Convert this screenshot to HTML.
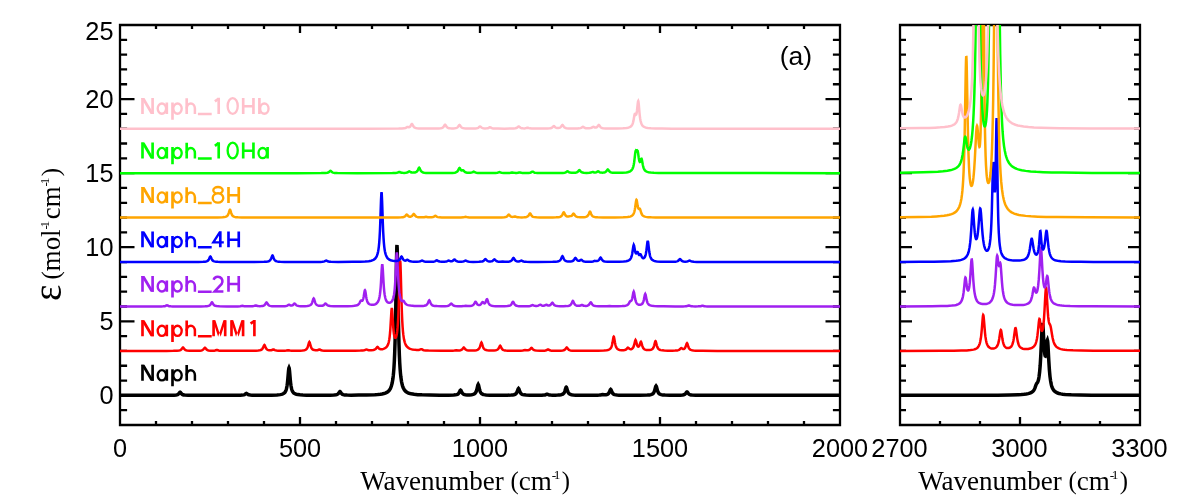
<!DOCTYPE html>
<html><head><meta charset="utf-8"><title>chart</title>
<style>
html,body{margin:0;padding:0;background:#fff;}
body{width:1200px;height:500px;overflow:hidden;font-family:"Liberation Sans",sans-serif;}
svg{display:block;will-change:transform;}
text{font-family:"Liberation Sans",sans-serif;fill:#000;}
.ser{font-family:"Liberation Serif",serif;}
</style></head><body>
<svg width="1200" height="500" viewBox="0 0 1200 500">
<defs><clipPath id="c1"><rect x="120" y="25" width="720" height="400"/></clipPath><clipPath id="c2"><rect x="900" y="25" width="240" height="400"/></clipPath></defs>
<rect width="1200" height="500" fill="#fff"/>
<path d="M120 25 H840 V425 H120 Z M120.00 425 v-8 M120.00 25 v8 M156.00 425 v-4 M156.00 25 v4 M192.00 425 v-4 M192.00 25 v4 M228.00 425 v-4 M228.00 25 v4 M264.00 425 v-4 M264.00 25 v4 M300.00 425 v-8 M300.00 25 v8 M336.00 425 v-4 M336.00 25 v4 M372.00 425 v-4 M372.00 25 v4 M408.00 425 v-4 M408.00 25 v4 M444.00 425 v-4 M444.00 25 v4 M480.00 425 v-8 M480.00 25 v8 M516.00 425 v-4 M516.00 25 v4 M552.00 425 v-4 M552.00 25 v4 M588.00 425 v-4 M588.00 25 v4 M624.00 425 v-4 M624.00 25 v4 M660.00 425 v-8 M660.00 25 v8 M696.00 425 v-4 M696.00 25 v4 M732.00 425 v-4 M732.00 25 v4 M768.00 425 v-4 M768.00 25 v4 M804.00 425 v-4 M804.00 25 v4 M840.00 425 v-8 M840.00 25 v8 M120 425.00 h7.1 M840 425.00 h-7.1 M120 410.19 h7.1 M840 410.19 h-7.1 M120 395.37 h14.5 M840 395.37 h-14.5 M120 380.56 h7.1 M840 380.56 h-7.1 M120 365.74 h7.1 M840 365.74 h-7.1 M120 350.93 h7.1 M840 350.93 h-7.1 M120 336.11 h7.1 M840 336.11 h-7.1 M120 321.30 h14.5 M840 321.30 h-14.5 M120 306.48 h7.1 M840 306.48 h-7.1 M120 291.67 h7.1 M840 291.67 h-7.1 M120 276.85 h7.1 M840 276.85 h-7.1 M120 262.04 h7.1 M840 262.04 h-7.1 M120 247.22 h14.5 M840 247.22 h-14.5 M120 232.41 h7.1 M840 232.41 h-7.1 M120 217.59 h7.1 M840 217.59 h-7.1 M120 202.78 h7.1 M840 202.78 h-7.1 M120 187.96 h7.1 M840 187.96 h-7.1 M120 173.15 h14.5 M840 173.15 h-14.5 M120 158.33 h7.1 M840 158.33 h-7.1 M120 143.52 h7.1 M840 143.52 h-7.1 M120 128.70 h7.1 M840 128.70 h-7.1 M120 113.89 h7.1 M840 113.89 h-7.1 M120 99.07 h14.5 M840 99.07 h-14.5 M120 84.26 h7.1 M840 84.26 h-7.1 M120 69.44 h7.1 M840 69.44 h-7.1 M120 54.63 h7.1 M840 54.63 h-7.1 M120 39.81 h7.1 M840 39.81 h-7.1 M120 25.00 h14.5 M840 25.00 h-14.5 M900 25 H1140 V425 H900 Z M900.00 425 v-8 M900.00 25 v8 M940.00 425 v-4 M940.00 25 v4 M980.00 425 v-4 M980.00 25 v4 M1020.00 425 v-8 M1020.00 25 v8 M1060.00 425 v-4 M1060.00 25 v4 M1100.00 425 v-4 M1100.00 25 v4 M1140.00 425 v-8 M1140.00 25 v8 M900 425.00 h6 M1140 425.00 h-6 M900 410.19 h6 M1140 410.19 h-6 M900 395.37 h12 M1140 395.37 h-12 M900 380.56 h6 M1140 380.56 h-6 M900 365.74 h6 M1140 365.74 h-6 M900 350.93 h6 M1140 350.93 h-6 M900 336.11 h6 M1140 336.11 h-6 M900 321.30 h12 M1140 321.30 h-12 M900 306.48 h6 M1140 306.48 h-6 M900 291.67 h6 M1140 291.67 h-6 M900 276.85 h6 M1140 276.85 h-6 M900 262.04 h6 M1140 262.04 h-6 M900 247.22 h12 M1140 247.22 h-12 M900 232.41 h6 M1140 232.41 h-6 M900 217.59 h6 M1140 217.59 h-6 M900 202.78 h6 M1140 202.78 h-6 M900 187.96 h6 M1140 187.96 h-6 M900 173.15 h12 M1140 173.15 h-12 M900 158.33 h6 M1140 158.33 h-6 M900 143.52 h6 M1140 143.52 h-6 M900 128.70 h6 M1140 128.70 h-6 M900 113.89 h6 M1140 113.89 h-6 M900 99.07 h12 M1140 99.07 h-12 M900 84.26 h6 M1140 84.26 h-6 M900 69.44 h6 M1140 69.44 h-6 M900 54.63 h6 M1140 54.63 h-6 M900 39.81 h6 M1140 39.81 h-6 M900 25.00 h12 M1140 25.00 h-12" fill="none" stroke="#000" stroke-width="2.3" stroke-linejoin="miter"/>
<path clip-path="url(#c1)" d="M120 395.36 163.92 395.34 170.4 395.29 174 395.2 176.16 395 176.88 394.85 177.6 394.59 178.32 394.15 178.68 393.81 179.76 392.44 180.12 392.26 180.48 392.44 181.56 393.81 181.92 394.15 182.28 394.4 183 394.74 183.72 394.93 184.8 395.09 188.04 395.26 195.96 395.33 216.84 395.34 233.76 395.31 240.24 395.23 242.4 395.11 243.84 394.86 244.56 394.59 244.92 394.39 246 393.56 246.36 393.44 246.72 393.55 247.8 394.38 248.16 394.59 248.88 394.85 250.32 395.09 252.12 395.2 260.4 395.26 271.56 395.15 276.96 394.95 280.2 394.62 281.28 394.41 282.36 394.1 283.08 393.8 283.8 393.38 284.52 392.77 284.88 392.35 285.6 391.17 285.96 390.32 286.32 389.21 286.68 387.74 287.04 385.76 287.4 383.12 287.76 379.67 288.48 371.08 288.84 368.09 289.02 367.67 289.2 368.09 289.56 371.08 290.28 379.66 290.64 383.12 291 385.76 291.36 387.73 291.72 389.21 292.08 390.32 292.44 391.17 292.8 391.83 293.52 392.76 293.88 393.1 294.6 393.61 295.32 393.96 296.4 394.32 297.84 394.61 300 394.86 302.88 395.03 306.48 395.13 313.68 395.22 323.76 395.23 330.24 395.18 333.84 395.06 336 394.82 336.72 394.64 337.44 394.34 338.16 393.8 338.52 393.39 339.6 391.74 339.96 391.52 340.32 391.74 341.4 393.38 342.12 394.09 342.48 394.32 343.2 394.62 344.64 394.91 347.16 395.08 351.12 395.14 358.68 395.12 366.6 395.01 374.88 394.72 377.76 394.51 380.28 394.24 382.08 393.96 383.88 393.56 385.32 393.1 386.76 392.43 387.48 391.98 388.2 391.42 388.92 390.71 389.64 389.79 390.36 388.57 390.72 387.81 391.44 385.85 392.16 383.05 392.88 378.87 393.24 375.98 393.6 372.3 393.96 367.56 394.32 361.36 394.68 353.12 395.04 342.08 395.4 327.32 395.76 308.07 396.48 261.41 396.84 246.49 396.98 245 397.2 248.31 397.56 265.74 398.28 312.29 398.64 330.62 399 344.56 399.36 354.96 399.72 362.74 400.08 368.61 400.44 373.11 400.8 376.61 401.52 381.59 402.24 384.86 402.6 386.08 403.32 387.97 403.68 388.71 404.4 389.89 405.48 391.16 406.2 391.77 406.92 392.26 408 392.83 409.08 393.25 411.24 393.83 414.12 394.3 417.72 394.63 422.04 394.85 429.6 395.05 439.68 395.15 448.68 395.15 453.72 395.01 455.52 394.85 456.6 394.64 457.32 394.39 458.04 393.98 458.76 393.26 459.12 392.71 460.2 390.48 460.56 390.19 460.92 390.48 462 392.69 462.36 393.24 463.08 393.95 463.8 394.35 464.52 394.59 465.24 394.73 467.04 394.88 469.56 394.88 471.72 394.71 473.16 394.42 474.24 393.98 474.96 393.46 475.68 392.59 476.04 391.92 476.4 391.02 476.76 389.83 477.84 385.05 478.2 384.41 478.56 385.05 479.64 389.85 480 391.04 480.36 391.94 480.72 392.61 481.44 393.49 481.8 393.79 482.52 394.2 483.24 394.47 483.96 394.65 486.12 394.95 489.72 395.13 498 395.23 507.36 395.19 511.32 395.04 512.76 394.91 513.84 394.72 514.56 394.51 515.28 394.18 516 393.61 516.36 393.19 516.72 392.62 517.08 391.86 518.16 388.81 518.52 388.41 518.88 388.81 519.96 391.86 520.32 392.62 520.68 393.19 521.4 393.94 522.12 394.37 522.84 394.63 523.92 394.86 526.08 395.08 529.68 395.2 536.52 395.26 541.92 395.21 543.72 395.11 544.8 394.95 545.52 394.74 546.6 394.25 546.96 394.19 547.32 394.25 548.76 394.85 549.48 395 550.56 395.11 552.36 395.17 555.24 395.17 557.76 395.09 559.56 394.96 561 394.76 562.08 394.47 562.8 394.13 563.52 393.57 563.88 393.15 564.24 392.59 564.6 391.84 564.96 390.85 565.68 388.34 566.04 387.4 566.26 387.22 566.4 387.3 566.76 388.11 567.48 390.62 567.84 391.66 568.2 392.46 568.56 393.06 568.92 393.5 569.64 394.09 570.36 394.45 571.44 394.75 573.24 395 575.76 395.15 579.72 395.24 594.12 395.26 597.36 395.21 599.52 395.1 600.6 394.95 602.4 394.48 604.2 394.79 604.92 394.82 606 394.74 606.72 394.58 607.44 394.32 608.16 393.85 608.52 393.5 608.88 393.01 609.24 392.37 610.32 389.79 610.68 389.44 611.04 389.79 612.12 392.39 612.48 393.03 612.84 393.52 613.2 393.88 613.92 394.36 614.64 394.64 615.72 394.89 617.16 395.06 618.96 395.16 625.44 395.28 640.2 395.26 647.4 395.09 649.56 394.91 651 394.64 652.08 394.26 652.8 393.81 653.16 393.49 653.52 393.06 653.88 392.48 654.24 391.71 654.6 390.69 655.68 386.58 656.04 386.04 656.4 386.58 657.48 390.69 657.84 391.71 658.2 392.48 658.56 393.06 658.92 393.48 659.28 393.81 660 394.26 661.08 394.64 662.88 394.95 665.04 395.11 669.72 395.23 676.2 395.25 680.16 395.18 682.68 395 683.76 394.78 684.48 394.51 684.84 394.3 685.56 393.65 686.64 392.16 687 391.96 687.36 392.16 688.44 393.65 688.8 394.03 689.16 394.3 689.88 394.67 690.96 394.95 692.04 395.09 695.64 395.26 716.88 395.35 840 395.37" fill="none" stroke="#000000" stroke-width="3.5" stroke-linejoin="miter" stroke-miterlimit="3"/>
<path clip-path="url(#c1)" d="M120 350.92 166.44 350.89 173.28 350.84 176.88 350.73 179.04 350.51 179.76 350.35 180.48 350.07 181.2 349.58 181.56 349.21 182.64 347.72 183 347.52 183.36 347.72 184.44 349.21 184.8 349.58 185.52 350.06 186.24 350.34 186.96 350.5 189.48 350.73 193.08 350.8 197.4 350.76 199.92 350.64 201.36 350.44 202.44 350.09 203.16 349.63 203.52 349.28 204.6 347.86 204.96 347.67 205.32 347.86 206.4 349.27 207.12 349.89 207.84 350.23 208.56 350.43 210.36 350.65 212.52 350.71 214.32 350.63 215.04 350.52 216.48 350.08 216.84 350.04 217.2 350.09 218.64 350.55 219.36 350.67 222.6 350.83 244.92 350.86 252.12 350.81 256.08 350.72 258.24 350.58 259.68 350.37 260.76 350.07 261.48 349.7 262.2 349.07 262.56 348.58 262.92 347.94 264 345.35 264.36 345 264.72 345.34 265.8 347.92 266.16 348.55 266.52 349.03 266.88 349.39 267.6 349.85 268.32 350.11 269.04 350.25 270.12 350.33 271.2 350.24 271.92 350.03 273 349.51 273.36 349.44 273.72 349.53 274.8 350.12 275.52 350.38 276.6 350.58 278.04 350.69 281.64 350.77 284.88 350.71 286.32 350.57 288.12 350.19 289.92 350.57 291.72 350.72 296.04 350.75 300.36 350.64 302.52 350.49 304.32 350.2 305.4 349.83 306.12 349.41 306.48 349.1 306.84 348.69 307.2 348.15 307.56 347.42 307.92 346.45 309 342.56 309.36 342.04 309.72 342.55 310.8 346.43 311.16 347.4 311.52 348.12 311.88 348.66 312.6 349.37 313.32 349.78 314.4 350.11 315.48 350.26 316.56 350.28 317.28 350.2 318 350.01 319.08 349.51 319.44 349.44 319.8 349.53 321.24 350.25 322.32 350.51 324.12 350.67 327 350.76 346.08 350.79 355.08 350.72 360.48 350.62 362.64 350.51 364.08 350.32 364.8 350.11 365.88 349.6 366.42 349.44 366.96 349.57 368.04 350.02 368.76 350.17 369.84 350.26 371.28 350.23 373.44 349.99 374.16 349.81 374.88 349.51 375.6 349.01 375.96 348.64 377.04 347.14 377.4 346.93 377.76 347.08 378.84 348.39 379.2 348.71 379.92 349.08 380.64 349.23 381.36 349.25 382.44 349.14 383.52 348.89 384.6 348.47 385.68 347.82 386.4 347.18 387.12 346.28 387.84 344.94 388.2 344.02 388.56 342.85 388.92 341.35 389.28 339.4 389.64 336.81 390 333.37 390.36 328.81 391.44 310.54 391.8 307.96 392.16 310.11 393.24 327.03 393.6 331.07 393.96 333.94 394.32 335.88 394.68 337.11 395.04 337.76 395.4 337.92 395.76 337.64 396.12 336.92 396.48 335.71 396.84 333.92 397.2 331.4 397.56 327.92 397.92 323.15 398.28 316.63 398.64 307.81 399 296.28 399.72 268.94 400.08 261.02 400.19 260.56 400.44 263.27 400.8 274.35 401.52 301.97 401.88 312.62 402.24 320.71 402.6 326.75 402.96 331.28 403.32 334.71 403.68 337.35 404.04 339.41 404.76 342.35 405.48 344.3 405.84 345.04 406.56 346.18 407.64 347.35 408.72 348.13 410.16 348.82 411.24 349.17 412.32 349.44 415.2 349.87 416.64 349.98 418.08 350 418.8 349.95 419.52 349.82 420.96 349.2 421.32 349.15 421.68 349.24 423.12 349.98 423.84 350.19 425.64 350.42 428.52 350.56 441.48 350.74 448.68 350.74 452.64 350.68 454.44 350.53 456.24 350.19 458.4 350.43 459.48 350.39 460.56 350.21 461.28 349.96 462 349.5 462.36 349.14 463.44 347.71 463.8 347.52 464.16 347.71 465.24 349.14 465.6 349.5 466.32 349.96 467.04 350.22 468.48 350.46 470.28 350.56 472.8 350.54 474.96 350.4 476.4 350.18 477.48 349.84 478.2 349.44 478.92 348.77 479.28 348.25 479.64 347.57 480 346.65 481.08 342.97 481.44 342.48 481.8 342.97 482.88 346.65 483.24 347.57 483.6 348.25 483.96 348.77 484.32 349.15 485.04 349.67 486.12 350.09 487.2 350.31 489 350.49 491.52 350.57 494.04 350.5 495.84 350.28 496.92 349.96 497.64 349.56 498.36 348.83 498.72 348.27 499.8 346.04 500.16 345.74 500.52 346.04 501.6 348.29 501.96 348.85 502.32 349.27 503.04 349.82 503.76 350.14 504.84 350.4 505.92 350.55 507.72 350.67 513.84 350.79 520.68 350.73 522.84 350.57 525 350.04 526.8 350.35 527.88 350.33 528.96 350.08 529.68 349.69 530.04 349.38 531.12 348.13 531.48 347.96 531.84 348.13 532.92 349.41 533.64 349.96 534.72 350.37 536.16 350.6 540.12 350.75 542.64 350.73 544.44 350.64 545.52 350.49 546.24 350.29 547.68 349.53 548.04 349.44 548.4 349.53 549.84 350.3 550.56 350.5 551.64 350.65 555.6 350.77 560.64 350.68 562.8 350.47 563.52 350.31 564.24 350.04 564.96 349.56 565.32 349.19 566.4 347.72 566.76 347.52 567.12 347.72 568.2 349.19 568.92 349.84 569.64 350.2 570.36 350.41 572.16 350.65 577.2 350.8 588 350.83 598.08 350.75 603.84 350.56 606.72 350.28 607.8 350.06 608.52 349.84 609.6 349.31 610.32 348.71 610.68 348.27 611.04 347.7 611.4 346.95 611.76 345.94 612.12 344.59 612.48 342.83 613.2 338.45 613.56 336.92 613.74 336.7 613.92 336.92 614.28 338.44 615 342.8 615.36 344.56 615.72 345.9 616.08 346.9 616.44 347.65 617.16 348.63 617.52 348.96 618.24 349.43 618.96 349.72 619.68 349.91 621.48 350.15 623.64 350.13 624.72 349.98 625.44 349.76 626.16 349.36 626.52 349.06 627.6 347.85 627.96 347.67 628.32 347.79 629.4 348.79 630.12 349.14 630.48 349.21 631.2 349.15 631.92 348.87 632.28 348.62 632.64 348.28 633 347.82 633.36 347.19 633.72 346.34 634.08 345.21 635.16 340.62 635.52 339.96 635.88 340.49 636.96 344.66 637.32 345.61 637.68 346.23 638.04 346.57 638.4 346.66 638.76 346.5 639.12 346.09 639.48 345.39 640.56 342.14 640.92 341.74 641.28 342.31 642.36 346.14 642.72 347.09 643.08 347.8 643.44 348.34 644.16 349.05 644.52 349.29 645.24 349.62 646.32 349.9 647.76 350.05 649.56 350 651 349.72 651.72 349.43 652.08 349.21 652.8 348.56 653.16 348.06 653.52 347.38 653.88 346.47 654.24 345.28 654.96 342.32 655.32 341.29 655.5 341.15 655.68 341.3 656.04 342.34 656.76 345.32 657.12 346.53 657.48 347.45 657.84 348.13 658.56 349.04 658.92 349.33 659.64 349.75 660.72 350.11 662.16 350.37 664.32 350.55 667.92 350.66 672.24 350.67 675.12 350.59 677.28 350.4 678.36 350.15 679.08 349.86 679.8 349.34 680.88 348.15 681.24 347.96 681.6 348.05 682.68 348.89 683.04 349.03 683.4 349.08 683.76 349.03 684.12 348.88 684.48 348.62 684.84 348.22 685.2 347.66 685.56 346.87 686.64 343.64 687 343.22 687.36 343.68 688.44 347.03 688.8 347.86 689.16 348.49 689.88 349.31 690.24 349.58 690.96 349.95 692.04 350.28 693.48 350.5 695.64 350.66 702.48 350.82 717.24 350.89 840 350.92" fill="none" stroke="#ff0000" stroke-width="2.5" stroke-linejoin="miter" stroke-miterlimit="3"/>
<path clip-path="url(#c1)" d="M120 306.47 152.76 306.46 161.4 306.4 163.2 306.32 164.64 306.15 165.36 305.95 166.44 305.44 166.98 305.3 167.52 305.44 168.6 305.95 169.32 306.15 170.76 306.32 172.56 306.39 194.16 306.44 201 306.4 204.96 306.3 206.76 306.17 207.84 306.02 208.56 305.84 209.28 305.55 210 305.03 210.36 304.64 210.72 304.12 211.44 302.84 211.8 302.4 211.98 302.33 212.16 302.4 212.52 302.84 213.24 304.12 213.6 304.64 213.96 305.03 214.68 305.55 215.4 305.84 216.48 306.08 219.36 306.31 226.56 306.41 237.72 306.39 240.24 306.26 242.4 305.89 244.2 306.21 245.28 306.31 247.44 306.36 250.68 306.33 252.48 306.24 253.56 306.11 254.28 305.92 255.36 305.5 255.72 305.44 256.08 305.49 257.52 305.98 258.24 306.1 259.68 306.17 261.48 306.09 262.56 305.94 263.28 305.76 264 305.44 264.36 305.2 265.08 304.45 266.16 302.71 266.52 302.48 266.88 302.71 267.96 304.45 268.68 305.21 269.4 305.63 270.12 305.87 271.92 306.15 274.44 306.28 278.4 306.33 282.36 306.29 284.88 306.16 285.96 306.02 286.68 305.84 287.4 305.53 288.48 304.81 288.84 304.7 289.2 304.77 290.28 305.35 290.64 305.47 291 305.54 291.72 305.53 292.44 305.33 292.8 305.13 293.16 304.85 294.24 303.67 294.6 303.52 294.96 303.69 296.04 304.93 296.4 305.24 297.12 305.64 297.84 305.87 298.92 306.04 300.36 306.15 302.52 306.19 305.04 306.14 307.2 306 308.64 305.78 309.72 305.45 310.44 305.07 310.8 304.79 311.52 303.95 311.88 303.29 312.24 302.43 313.32 298.95 313.68 298.48 314.04 298.94 315.12 302.41 315.48 303.27 315.84 303.92 316.2 304.4 316.92 305.03 317.64 305.39 318.72 305.69 319.8 305.82 321.24 305.85 322.32 305.73 323.04 305.53 323.76 305.16 324.12 304.87 325.2 303.67 325.56 303.52 325.92 303.69 327 304.92 327.72 305.45 328.8 305.85 330.24 306.08 333.84 306.24 340.32 306.26 347.88 306.17 352.56 305.97 354.36 305.81 355.8 305.59 356.88 305.31 357.6 305.02 358.32 304.56 359.04 303.81 359.76 302.58 360.48 301.03 360.84 300.56 361.2 300.49 361.92 300.82 362.28 300.75 362.64 300.35 363 299.57 363.36 298.32 363.72 296.56 364.44 291.99 364.8 290.39 364.98 290.19 365.16 290.45 365.52 292.15 366.24 296.99 366.6 298.94 366.96 300.42 367.32 301.52 367.68 302.34 368.04 302.95 368.76 303.76 369.12 304.04 369.84 304.41 370.56 304.63 371.64 304.77 372.36 304.78 373.44 304.69 374.52 304.46 375.6 304.04 376.32 303.61 377.04 302.99 377.76 302.07 378.12 301.44 378.84 299.66 379.2 298.38 379.56 296.71 379.92 294.49 380.28 291.52 380.64 287.54 381 282.34 381.72 269.41 382.08 264.91 382.26 264.26 382.44 264.89 382.8 269.35 383.52 282.19 383.88 287.35 384.24 291.28 384.6 294.2 384.96 296.37 385.32 298 385.68 299.22 386.04 300.16 386.4 300.88 386.76 301.43 387.48 302.19 388.2 302.61 388.92 302.8 389.64 302.79 390.36 302.58 391.08 302.14 391.8 301.4 392.52 300.21 392.88 299.36 393.24 298.27 393.6 296.87 393.96 295.03 394.32 292.59 394.68 289.33 395.04 284.94 395.4 279.09 396.48 255.54 396.84 252.41 397.2 255.56 398.28 279.15 398.64 285.01 399 289.4 399.36 292.67 399.72 295.1 400.08 296.92 400.44 298.3 400.8 299.33 401.16 300.1 401.52 300.65 401.88 301.01 402.24 301.17 402.6 301.17 403.32 300.92 403.68 301 404.04 301.39 404.76 302.64 405.48 303.66 405.84 304.02 406.56 304.53 407.28 304.87 408 305.11 409.08 305.37 410.52 305.59 414.48 305.9 419.88 306.01 423.12 305.9 424.2 305.78 425.28 305.54 426 305.26 426.36 305.05 427.08 304.41 427.44 303.92 427.8 303.26 428.88 300.61 429.24 300.26 429.6 300.62 430.68 303.28 431.04 303.95 431.4 304.45 432.12 305.1 432.84 305.48 433.56 305.71 434.64 305.91 437.16 306.12 441.12 306.22 445.08 306.17 447.24 306 448.32 305.77 449.04 305.47 449.76 304.93 450.84 303.68 451.2 303.52 451.56 303.69 452.64 304.93 453.36 305.48 454.08 305.78 455.16 306.01 457.68 306.2 461.64 306.21 463.44 306.11 465.6 305.74 467.76 306.03 469.92 305.99 471.72 305.7 472.44 305.45 473.16 305.03 473.88 304.27 474.24 303.71 474.96 302.31 475.32 301.82 475.5 301.74 475.68 301.8 476.04 302.25 476.76 303.57 477.12 304.08 477.48 304.46 477.84 304.73 478.56 305 479.28 305.04 479.64 304.98 480.36 304.66 480.72 304.37 481.08 303.98 482.16 302.31 482.52 302.04 482.88 302.16 483.6 302.96 483.96 303.26 484.32 303.38 484.68 303.31 485.04 303.04 485.4 302.54 485.76 301.8 486.48 299.88 486.84 299.27 486.98 299.22 487.2 299.4 487.56 300.23 488.28 302.4 488.64 303.25 489 303.91 489.72 304.76 490.08 305.04 490.8 305.43 491.88 305.76 493.32 305.99 495.48 306.15 499.8 306.26 504.48 306.24 507.36 306.1 509.16 305.82 510.24 305.4 510.96 304.86 511.68 303.89 512.4 302.45 512.76 301.88 513.01 301.74 513.12 301.77 513.48 302.19 514.56 304.24 515.28 305.06 516 305.52 516.72 305.79 517.8 306.01 518.88 306.13 521.04 306.24 523.92 306.29 526.8 306.27 528.96 306.17 530.04 306.02 530.76 305.83 532.2 305.08 532.56 305 532.92 305.07 534 305.63 534.72 305.86 535.8 305.99 536.88 305.97 537.6 305.87 538.32 305.66 539.76 304.8 540.12 304.7 540.48 304.79 541.56 305.43 541.92 305.58 542.64 305.74 543.72 305.74 544.44 305.58 544.8 305.43 545.88 304.8 546.24 304.7 546.6 304.77 547.68 305.33 548.04 305.45 548.4 305.51 549.12 305.5 549.84 305.31 550.56 304.86 550.92 304.49 552 302.98 552.36 302.78 552.72 302.99 553.8 304.57 554.16 304.96 554.88 305.48 555.96 305.87 557.4 306.09 559.92 306.22 563.52 306.23 566.4 306.12 567.84 305.97 568.92 305.75 569.64 305.5 570.36 305.06 571.08 304.28 571.44 303.69 572.52 301.32 572.88 301 573.24 301.31 574.32 303.67 574.68 304.25 575.04 304.69 575.4 305.02 576.12 305.43 576.84 305.67 577.56 305.8 578.64 305.86 579.72 305.77 580.44 305.57 581.52 305.07 581.88 305 582.24 305.07 583.68 305.71 584.4 305.86 585.84 305.91 587.28 305.7 588 305.45 588.72 304.97 589.44 304.12 590.16 302.88 590.52 302.42 590.74 302.33 590.88 302.37 591.24 302.78 592.32 304.55 593.04 305.25 593.4 305.47 594.12 305.77 595.56 306.06 598.44 306.25 603.12 306.32 607.08 306.24 609.6 305.89 611.76 306.2 613.56 306.27 618.24 306.24 622.2 306.09 624 305.93 625.44 305.71 626.52 305.41 627.24 305.09 627.96 304.59 628.68 303.75 629.76 301.78 630.12 301.3 630.48 301.09 630.84 301.03 631.2 300.86 631.56 300.41 631.92 299.58 632.28 298.27 633.36 292.43 633.72 291.67 634.08 292.55 635.16 298.89 635.52 300.46 635.88 301.64 636.24 302.51 636.6 303.15 636.96 303.63 637.68 304.27 638.04 304.48 638.76 304.74 639.48 304.84 640.2 304.82 640.92 304.65 641.28 304.49 642 303.99 642.36 303.6 642.72 303.07 643.08 302.35 643.44 301.37 643.8 300.06 644.88 294.74 645.24 294.04 645.6 294.77 646.68 300.18 647.04 301.53 647.4 302.54 647.76 303.3 648.12 303.87 648.48 304.3 649.2 304.9 650.28 305.43 651 305.64 652.08 305.85 654.24 306.08 657.84 306.25 663.6 306.35 675.12 306.41 683.04 306.38 684.84 306.32 686.28 306.2 687 306.05 688.44 305.5 688.8 305.44 689.16 305.5 690.6 306.05 691.32 306.19 692.76 306.32 695.28 306.38 698.16 306.36 699.96 306.27 700.68 306.17 702.12 305.78 702.48 305.74 702.84 305.78 704.28 306.18 705.36 306.31 707.16 306.4 710.76 306.44 840 306.48" fill="none" stroke="#a020f0" stroke-width="2.5" stroke-linejoin="miter" stroke-miterlimit="3"/>
<path clip-path="url(#c1)" d="M120 262.03 189.48 262 198.48 261.95 203.16 261.82 204.96 261.66 206.04 261.48 207.12 261.12 207.84 260.68 208.56 259.89 208.92 259.29 210 256.88 210.36 256.56 210.72 256.88 211.8 259.29 212.16 259.89 212.88 260.68 213.6 261.12 214.32 261.39 216.12 261.7 217.92 261.83 220.44 261.91 229.44 261.99 254.28 261.98 264 261.84 266.16 261.7 267.6 261.5 268.68 261.21 269.4 260.86 269.76 260.61 270.48 259.82 270.84 259.22 271.2 258.43 271.92 256.42 272.28 255.66 272.5 255.52 272.64 255.58 273 256.23 273.72 258.24 274.08 259.08 274.44 259.71 275.16 260.55 275.88 261.02 276.96 261.4 278.4 261.65 280.2 261.8 284.52 261.92 292.8 261.98 312.6 261.98 320.52 261.9 322.32 261.82 323.76 261.63 324.48 261.43 325.92 260.64 326.28 260.56 326.64 260.64 327.72 261.26 328.44 261.54 329.52 261.74 330.96 261.85 338.16 261.93 352.92 261.84 360.12 261.71 365.16 261.48 368.76 261.14 371.28 260.67 372.72 260.2 373.44 259.87 374.16 259.45 375.24 258.55 375.96 257.65 376.68 256.38 377.4 254.48 377.76 253.17 378.12 251.5 378.48 249.36 378.84 246.56 379.2 242.85 379.56 237.88 379.92 231.22 380.28 222.5 381 200.86 381.36 193.33 381.54 192.26 381.72 193.33 382.08 200.86 382.8 222.49 383.16 231.21 383.52 237.86 383.88 242.83 384.24 246.54 384.6 249.34 384.96 251.48 385.32 253.14 385.68 254.45 386.4 256.34 387.12 257.61 387.48 258.09 388.2 258.84 389.28 259.61 390.72 260.25 391.8 260.55 392.88 260.76 394.68 260.96 396.48 260.97 397.56 260.84 398.64 260.48 399.36 259.97 399.72 259.57 400.08 259.03 401.16 256.85 401.52 256.56 401.88 256.85 402.96 259.04 403.32 259.58 403.68 259.97 404.4 260.43 405.12 260.61 405.84 260.53 406.2 260.4 406.92 259.98 407.28 259.83 407.5 259.81 408 260.05 409.08 260.87 410.16 261.3 411.6 261.55 413.76 261.69 417 261.72 419.16 261.59 420.24 261.35 421.68 260.63 422.04 260.56 422.4 260.64 423.84 261.37 424.56 261.56 425.28 261.67 428.52 261.81 432.48 261.74 433.56 261.64 434.64 261.41 435.36 261.09 436.44 260.36 436.8 260.26 437.16 260.36 438.6 261.26 439.68 261.57 441.84 261.75 444.72 261.72 445.8 261.61 446.52 261.47 447.24 261.22 448.32 260.64 448.68 260.56 449.04 260.61 450.12 261.09 450.48 261.19 451.2 261.25 451.92 261.17 452.64 260.89 453 260.65 454.08 259.65 454.44 259.52 454.8 259.66 455.88 260.72 456.6 261.18 457.68 261.51 458.76 261.66 461.28 261.72 463.08 261.56 463.8 261.38 465.24 260.63 465.6 260.56 465.96 260.64 467.4 261.4 468.12 261.6 469.2 261.75 473.16 261.88 478.92 261.82 481.44 261.61 482.16 261.47 482.88 261.24 483.6 260.83 483.96 260.51 485.04 259.25 485.4 259.07 485.76 259.24 486.84 260.47 487.2 260.77 487.92 261.16 489 261.42 490.44 261.47 491.16 261.39 491.88 261.22 492.6 260.88 492.96 260.61 494.04 259.51 494.4 259.37 494.76 259.52 495.84 260.64 496.2 260.92 496.92 261.28 497.64 261.48 498.72 261.63 500.16 261.68 502.68 261.44 504.84 261.71 507 261.73 508.44 261.64 509.52 261.48 510.24 261.3 510.96 260.98 511.68 260.42 512.04 259.99 513.12 258.27 513.48 258.04 513.84 258.26 514.92 259.97 515.64 260.71 516 260.94 516.72 261.23 517.8 261.42 518.88 261.41 519.6 261.27 521.04 260.62 521.4 260.56 521.76 260.64 522.84 261.25 523.56 261.51 524.64 261.71 526.44 261.85 530.4 261.93 537.96 261.96 552.72 261.85 555.6 261.73 557.4 261.53 558.48 261.28 559.56 260.79 560.28 260.16 560.64 259.68 561 259.04 562.08 256.46 562.44 256.11 562.8 256.45 563.88 259.01 564.24 259.65 564.6 260.12 565.32 260.74 566.04 261.08 566.76 261.29 567.84 261.45 569.28 261.51 570.72 261.45 571.8 261.27 572.52 261.04 573.24 260.62 573.6 260.3 573.96 259.87 575.04 258.13 575.4 257.89 575.76 258.11 576.84 259.78 577.2 260.18 577.56 260.46 578.28 260.77 579 260.81 579.36 260.74 579.72 260.6 580.8 259.9 581.16 259.81 581.52 259.95 582.6 260.83 583.32 261.22 584.4 261.51 585.48 261.65 588.72 261.76 591.6 261.66 593.04 261.45 594.48 260.93 594.84 260.85 595.2 260.87 596.28 261.09 597 261.09 597.72 260.91 598.08 260.74 598.8 260.16 599.16 259.7 600.24 257.84 600.6 257.59 600.96 257.85 602.04 259.75 602.76 260.58 603.12 260.85 603.84 261.2 604.92 261.48 607.44 261.72 612.12 261.8 618.96 261.73 623.64 261.5 626.16 261.2 627.96 260.75 628.68 260.45 629.4 260.01 630.12 259.34 630.48 258.88 630.84 258.28 631.2 257.5 631.56 256.46 631.92 255.09 632.28 253.27 633.36 245.94 633.72 244.85 634.08 245.59 635.16 251.63 635.52 252.83 635.88 253.42 636.24 253.47 636.6 253.07 636.96 252.44 637.32 251.98 637.5 251.96 637.68 252.12 638.04 252.85 638.76 254.54 639.12 254.93 639.48 254.95 640.2 254.35 640.56 254.33 640.92 254.81 641.64 256.5 642 257.21 642.36 257.72 642.72 258.05 643.08 258.21 643.44 258.24 643.8 258.13 644.16 257.88 644.52 257.47 644.88 256.88 645.24 256.03 645.6 254.84 645.96 253.21 646.32 251 647.4 242.03 647.76 240.85 648.12 242.1 649.2 251.31 649.56 253.6 649.92 255.33 650.28 256.62 650.64 257.59 651 258.33 651.72 259.35 652.08 259.71 652.8 260.24 653.52 260.6 654.6 260.96 655.68 261.2 657.12 261.4 660.72 261.66 666.12 261.8 672.24 261.81 675.48 261.66 676.92 261.41 677.64 261.15 678 260.94 678.72 260.31 679.44 259.43 679.8 259.12 679.98 259.07 680.16 259.12 680.52 259.42 681.24 260.31 681.96 260.93 682.68 261.28 683.4 261.47 685.2 261.64 687 261.53 687.72 261.35 689.16 260.63 689.52 260.56 689.88 260.64 691.32 261.41 692.04 261.61 693.84 261.83 696.72 261.92 721.92 262.01 840 262.03" fill="none" stroke="#0000ff" stroke-width="2.5" stroke-linejoin="miter" stroke-miterlimit="3"/>
<path clip-path="url(#c1)" d="M120 217.59 207.48 217.56 217.56 217.49 222.6 217.3 224.4 217.1 225.48 216.86 226.56 216.41 227.28 215.85 227.64 215.43 228 214.88 228.36 214.13 228.72 213.14 229.44 210.71 229.8 209.86 229.98 209.74 230.16 209.86 230.52 210.71 231.24 213.14 231.6 214.13 231.96 214.88 232.32 215.43 232.68 215.85 233.4 216.41 234.48 216.86 235.92 217.16 238.08 217.35 241.68 217.47 255.72 217.57 301.8 217.59 379.92 217.57 397.92 217.48 401.52 217.34 402.6 217.22 403.68 217 404.4 216.73 405.12 216.25 406.2 215 406.56 214.68 406.74 214.63 406.92 214.67 407.28 214.95 408 215.78 408.72 216.34 409.08 216.5 409.8 216.65 410.52 216.63 410.88 216.56 411.6 216.25 411.96 215.98 412.32 215.61 413.4 214.09 413.76 213.89 414.12 214.11 415.2 215.7 415.56 216.1 416.28 216.62 417 216.92 418.08 217.15 420.6 217.35 423.48 217.31 424.2 217.23 426 216.85 427.8 217.23 428.52 217.31 430.32 217.36 431.76 217.28 432.84 217.1 433.56 216.86 433.92 216.67 435 215.91 435.36 215.81 435.72 215.92 436.8 216.69 437.16 216.88 437.88 217.13 439.32 217.36 441.84 217.48 450.84 217.55 460.92 217.51 463.44 217.35 465.6 216.85 467.76 217.35 469.2 217.47 471 217.52 491.16 217.55 501.6 217.45 504.48 217.26 505.56 217.07 506.28 216.83 507 216.41 507.36 216.09 508.44 214.8 508.8 214.63 509.16 214.79 510.24 216.03 510.6 216.33 510.96 216.55 511.68 216.82 512.4 216.91 513.12 216.88 514.56 216.45 514.92 216.41 515.28 216.48 516.72 217.05 517.44 217.2 519.24 217.35 521.76 217.38 523.92 217.31 525.36 217.18 526.44 216.97 527.16 216.72 527.88 216.28 528.24 215.94 528.6 215.49 529.68 213.69 530.04 213.44 530.4 213.69 531.48 215.5 532.2 216.29 532.56 216.54 533.28 216.87 534.36 217.14 536.52 217.36 539.76 217.46 546.24 217.49 552.72 217.45 555.96 217.35 558.12 217.2 559.56 216.96 560.64 216.57 561.36 216.1 562.08 215.25 562.44 214.61 563.16 212.99 563.52 212.38 563.74 212.26 563.88 212.31 564.24 212.81 564.96 214.39 565.32 215.04 565.68 215.53 566.4 216.14 567.12 216.45 567.84 216.56 568.56 216.51 570 216.11 571.08 216.01 571.44 215.89 571.8 215.66 572.16 215.32 573.24 213.79 573.6 213.59 573.96 213.83 575.04 215.52 575.4 215.94 575.76 216.25 576.48 216.66 577.56 216.98 578.64 217.13 580.08 217.22 581.88 217.24 584.04 217.14 585.48 216.94 586.56 216.62 587.28 216.21 588 215.48 588.36 214.93 588.72 214.2 589.44 212.39 589.8 211.76 589.98 211.67 590.16 211.76 590.52 212.39 591.24 214.21 591.6 214.94 591.96 215.5 592.32 215.92 592.68 216.23 593.4 216.65 594.12 216.9 594.84 217.06 595.92 217.21 597.72 217.34 603.12 217.46 615 217.46 623.28 217.33 627.6 217.05 629.04 216.85 630.12 216.61 631.2 216.22 631.92 215.81 632.64 215.2 633 214.78 633.36 214.23 633.72 213.52 634.08 212.59 634.44 211.34 634.8 209.68 635.16 207.51 635.88 202.1 636.24 200.15 636.42 199.81 636.6 199.98 636.96 201.57 637.68 206.11 638.04 207.68 638.4 208.59 638.76 208.9 639.12 208.78 639.48 208.56 639.84 208.7 640.2 209.48 641.28 213.05 641.64 213.92 642 214.58 642.36 215.09 643.08 215.79 644.16 216.39 644.88 216.63 645.96 216.88 648.12 217.15 651.36 217.33 655.68 217.44 672.6 217.55 840 217.59" fill="none" stroke="#ffa500" stroke-width="2.5" stroke-linejoin="miter" stroke-miterlimit="3"/>
<path clip-path="url(#c1)" d="M120 173.15 296.76 173.14 321.24 173.09 325.2 172.99 327.36 172.76 328.08 172.56 328.8 172.21 329.88 171.27 330.24 170.99 330.49 170.93 330.96 171.14 332.04 172.11 332.4 172.34 333.12 172.63 334.56 172.9 337.44 173.05 357.24 173.13 392.52 173.06 395.4 172.97 396.84 172.8 397.56 172.62 399 172 399.25 171.96 399.72 172.06 400.8 172.54 401.52 172.73 402.6 172.85 404.04 172.88 405.84 172.78 406.92 172.58 407.64 172.3 408.72 171.58 409.26 171.37 409.8 171.56 410.88 172.24 411.96 172.55 412.68 172.62 413.76 172.61 414.84 172.48 415.56 172.3 416.28 171.98 416.64 171.73 417.36 170.96 417.72 170.37 418.8 167.98 419.16 167.67 419.52 167.99 420.6 170.39 420.96 170.99 421.32 171.44 422.04 172.02 423.12 172.48 424.2 172.7 426 172.88 428.88 173 437.16 173.07 447.6 173.03 452.28 172.9 454.8 172.64 455.52 172.48 456.24 172.23 456.96 171.81 457.32 171.5 457.68 171.08 458.04 170.53 459.12 168.3 459.48 167.96 459.84 168.19 460.56 169.46 460.92 170 461.28 170.34 461.64 170.5 462 170.48 462.72 170.19 463.08 170.19 463.44 170.42 464.52 171.61 464.88 171.9 465.6 172.28 466.32 172.51 467.04 172.64 468.84 172.78 470.28 172.76 471.36 172.63 472.08 172.42 473.16 171.85 473.74 171.67 474.24 171.82 475.32 172.44 476.4 172.76 477.84 172.93 480 173.02 489.36 173.08 495.48 172.99 497.28 172.8 498 172.61 499.08 172.17 499.44 172.11 499.8 172.17 500.88 172.61 501.6 172.8 503.76 173 507 173.03 509.52 172.95 510.6 172.83 512.04 172.45 512.4 172.41 514.56 172.85 515.64 172.92 516.72 172.91 517.8 172.8 519.24 172.45 519.6 172.41 519.96 172.45 521.4 172.82 522.48 172.95 524.28 173.01 526.8 173.01 528.6 172.93 530.04 172.75 530.76 172.55 532.2 171.75 532.56 171.67 532.92 171.75 534 172.39 534.72 172.67 535.8 172.88 537.24 172.99 544.8 173.09 559.56 173.04 562.8 172.93 564.6 172.72 565.68 172.36 566.04 172.16 567.12 171.33 567.48 171.22 567.84 171.33 568.92 172.13 569.28 172.33 570 172.59 571.44 172.8 573.6 172.84 575.4 172.7 576.12 172.57 576.84 172.35 577.56 171.93 577.92 171.62 579 170.35 579.36 170.19 579.72 170.35 580.8 171.62 581.52 172.17 582.6 172.58 583.68 172.76 586.56 172.89 589.44 172.8 590.88 172.54 591.96 172.1 592.5 171.96 593.04 172.06 594.12 172.42 595.2 172.49 596.28 172.28 596.64 172.12 597.72 171.46 598.08 171.37 598.44 171.46 599.52 172.14 600.24 172.43 601.32 172.61 602.4 172.65 603.48 172.58 604.2 172.47 605.28 172.1 606 171.6 606.36 171.21 607.44 169.65 607.8 169.44 608.16 169.65 609.24 171.22 609.6 171.61 610.32 172.12 611.4 172.49 612.84 172.7 615 172.81 618.6 172.82 622.2 172.71 626.16 172.4 627.6 172.17 629.04 171.79 630.12 171.33 630.84 170.87 631.56 170.2 632.28 169.19 632.64 168.48 633 167.56 633.36 166.36 633.72 164.78 634.08 162.7 634.44 160.01 635.16 153.55 635.52 151.21 635.59 150.93 635.88 150.45 636.6 151.21 636.96 151.01 637.32 150.59 637.68 150.93 638.04 152.66 638.76 157.99 639.12 160.06 639.48 161.37 639.84 161.92 640.2 161.76 640.56 160.98 641.28 158.87 641.57 158.78 641.64 158.89 642 160.17 642.72 164.26 643.08 166.01 643.44 167.38 643.8 168.43 644.16 169.22 644.52 169.83 644.88 170.31 645.6 171 646.68 171.63 647.4 171.9 648.48 172.18 650.64 172.52 653.88 172.76 658.56 172.92 676.56 173.08 840 173.15" fill="none" stroke="#00ff00" stroke-width="2.5" stroke-linejoin="miter" stroke-miterlimit="3"/>
<path clip-path="url(#c1)" d="M120 128.7 365.88 128.69 398.64 128.61 401.88 128.52 404.04 128.35 405.48 128.03 406.2 127.69 407.28 126.99 407.5 126.93 408 126.97 408.72 127.16 409.08 127.17 409.44 127.09 409.8 126.9 410.16 126.59 410.52 126.14 411.6 124.21 411.96 123.96 412.32 124.25 413.4 126.31 413.76 126.83 414.12 127.21 414.84 127.72 415.92 128.11 417 128.31 418.8 128.47 421.68 128.57 428.16 128.62 435.36 128.58 438.6 128.48 440.76 128.27 441.84 128.01 442.56 127.69 442.92 127.44 443.64 126.68 444.72 124.94 445.08 124.7 445.44 124.93 446.52 126.67 446.88 127.1 447.6 127.66 448.32 127.97 449.04 128.16 450.12 128.3 451.56 128.38 453.36 128.38 454.8 128.28 455.88 128.11 456.6 127.89 457.32 127.51 457.68 127.21 458.04 126.81 459.12 125.21 459.48 125 459.84 125.22 460.92 126.82 461.28 127.22 461.64 127.53 462.36 127.92 463.08 128.15 464.16 128.33 465.6 128.46 467.76 128.53 473.52 128.53 475.32 128.45 476.76 128.29 477.48 128.11 478.2 127.8 478.56 127.56 479.64 126.61 480 126.48 480.36 126.61 481.44 127.55 482.16 127.96 483.24 128.26 485.04 128.4 486.84 128.35 487.92 128.17 488.64 127.91 489.72 127.3 490.08 127.22 490.44 127.31 491.52 127.94 492.24 128.21 493.32 128.42 494.76 128.53 498 128.61 504.48 128.64 510.24 128.61 513.48 128.51 515.28 128.34 516.36 128.08 517.08 127.72 518.16 126.78 518.52 126.53 518.74 126.48 518.88 126.5 519.24 126.72 519.96 127.38 520.68 127.87 521.76 128.22 522.84 128.36 524.28 128.38 525.36 128.28 526.08 128.12 527.16 127.72 527.52 127.67 527.88 127.73 528.96 128.15 529.68 128.34 531.84 128.55 539.4 128.62 547.32 128.52 549.84 128.33 550.56 128.2 551.28 127.99 552 127.62 552.36 127.33 553.44 126.19 553.8 126.04 554.16 126.18 555.24 127.26 555.6 127.53 556.32 127.86 557.04 128.01 557.76 128.06 558.48 128.03 559.2 127.91 559.92 127.65 560.64 127.16 561 126.77 562.08 125.21 562.44 125 562.8 125.22 563.88 126.81 564.24 127.21 564.96 127.73 565.68 128.03 566.4 128.2 568.56 128.44 571.44 128.53 575.04 128.54 577.56 128.49 579.36 128.36 580.44 128.16 581.16 127.89 581.52 127.69 582.6 126.89 582.96 126.78 583.32 126.88 584.4 127.67 585.12 128.01 585.84 128.19 586.92 128.31 589.08 128.31 590.52 128.13 591.6 127.77 592.68 127.03 593.04 126.83 593.26 126.78 593.76 126.91 594.84 127.48 595.2 127.56 595.92 127.55 596.64 127.29 597 127.04 597.36 126.69 598.44 125.19 598.8 125 599.16 125.22 600.24 126.8 600.96 127.48 601.32 127.71 602.04 128 603.12 128.23 605.64 128.44 610.32 128.52 617.52 128.47 622.92 128.29 626.52 127.98 627.96 127.72 629.04 127.42 630.12 126.95 630.84 126.46 631.56 125.73 631.92 125.22 632.28 124.56 632.64 123.71 633 122.6 633.36 121.14 633.72 119.3 634.44 115.14 634.8 113.89 635.16 113.75 635.88 114.68 636.24 114.41 636.6 113.19 636.96 110.92 637.68 104.03 638.04 101.39 638.26 101 638.4 101.37 638.76 104.19 639.48 112.61 639.84 116.07 640.2 118.73 640.56 120.73 640.92 122.22 641.28 123.36 641.64 124.23 642.36 125.45 642.72 125.89 643.44 126.53 644.16 126.98 645.24 127.43 646.32 127.72 647.76 127.98 651 128.28 655.32 128.46 661.8 128.57 671.88 128.64 840 128.7" fill="none" stroke="#ffc0cb" stroke-width="2.5" stroke-linejoin="miter" stroke-miterlimit="3"/>
<path clip-path="url(#c2)" d="M900 395.35 979.4 395.28 997.8 395.19 1009.8 395.03 1018.2 394.77 1021.4 394.58 1024 394.34 1026.2 394.05 1028.2 393.66 1029.8 393.2 1031 392.7 1032 392.12 1033 391.29 1033.8 390.31 1034.4 389.27 1035 387.88 1036 384.92 1036.4 383.97 1036.8 383.35 1037.6 382.37 1038 381.49 1038.6 379.29 1039 377.08 1039.6 372.33 1040.2 365.26 1040.8 355.11 1042 328.82 1042.2 325.78 1042.4 323.93 1042.6 323.45 1042.8 324.36 1043 326.49 1044 344.47 1044.4 350.37 1044.8 354.27 1045 355.42 1045.2 356.04 1045.4 356.13 1045.6 355.69 1045.8 354.72 1046.2 351.32 1047 341.89 1047.2 340.44 1047.4 339.99 1047.6 340.72 1047.8 342.62 1048 345.49 1048.8 360.55 1049.4 370.01 1050 376.61 1050.6 381.08 1051 383.25 1051.4 384.96 1051.8 386.33 1052.4 387.93 1053 389.13 1053.8 390.31 1054.6 391.18 1055.4 391.84 1056.4 392.46 1057.6 393 1059 393.46 1060.8 393.88 1062.8 394.2 1065.2 394.46 1071.2 394.83 1079.6 395.06 1091.8 395.2 1140 395.33" fill="none" stroke="#000000" stroke-width="3.5" stroke-linejoin="miter" stroke-miterlimit="3"/>
<path clip-path="url(#c2)" d="M900 350.88 942.4 350.79 953.8 350.71 961.4 350.58 966.8 350.38 970.6 350.09 973.4 349.64 974.4 349.38 975.4 349.03 976.4 348.52 977.2 347.94 977.8 347.35 978.4 346.57 979 345.5 979.4 344.55 979.8 343.35 980.2 341.81 980.8 338.57 981.2 335.57 981.8 329.41 982.8 317.04 983 315.56 983.2 314.89 983.4 315.16 983.6 316.3 984 320.51 985 332.79 985.4 336.38 986 340.26 986.6 342.84 987 344.08 987.4 345.04 988.2 346.4 988.8 347.08 989.4 347.58 990.4 348.12 991.4 348.42 992.6 348.56 993.8 348.47 994.8 348.2 995.6 347.8 996.4 347.15 997 346.41 997.4 345.73 997.8 344.84 998.2 343.69 998.6 342.18 999.2 339.05 1000.2 332.13 1000.6 330.27 1000.8 329.99 1001 330.2 1001.2 330.88 1001.4 331.94 1002.4 338.83 1003 341.99 1003.6 344.14 1004.2 345.56 1004.8 346.52 1005.4 347.16 1006 347.59 1006.8 347.94 1007.6 348.09 1008.6 348.07 1009.6 347.79 1010.4 347.34 1011.2 346.59 1011.8 345.71 1012.4 344.41 1013 342.48 1013.4 340.69 1013.8 338.4 1015 329.65 1015.2 328.66 1015.4 328.12 1015.6 328.1 1015.8 328.61 1016 329.57 1017.2 338.35 1017.8 341.64 1018.2 343.24 1018.6 344.48 1019.2 345.82 1019.8 346.75 1020.6 347.58 1021.6 348.22 1022.8 348.67 1024.4 348.96 1026.2 349.04 1028.2 348.91 1030 348.58 1031.6 348.05 1032.4 347.66 1033.2 347.12 1034 346.39 1034.6 345.64 1035.2 344.63 1035.6 343.77 1036 342.69 1036.4 341.31 1037 338.49 1037.4 335.91 1038 330.72 1038.8 322.32 1039.2 319.46 1039.4 318.92 1039.6 319.05 1039.8 319.8 1040.8 327.06 1041.2 329.27 1041.4 330.02 1041.6 330.54 1041.8 330.83 1042 330.91 1042.2 330.76 1042.4 330.39 1042.8 329 1043.2 326.66 1043.4 325.09 1044 318.56 1044.6 308.99 1045.4 293.9 1045.8 288.83 1046 287.84 1046.2 288.09 1046.4 289.5 1046.6 291.9 1047.8 312.02 1048.2 316.9 1048.4 318.78 1048.8 321.53 1049.2 323.16 1049.4 323.67 1050.2 325.07 1050.6 326.29 1051 328.19 1052 334.46 1052.6 337.82 1053 339.66 1053.6 341.83 1054.4 343.91 1055.2 345.35 1056.2 346.59 1057.4 347.59 1058.4 348.17 1059.6 348.68 1061 349.11 1062.8 349.49 1064.8 349.79 1067 350.02 1073 350.37 1081.2 350.59 1093.4 350.74 1140 350.87" fill="none" stroke="#ff0000" stroke-width="2.5" stroke-linejoin="miter" stroke-miterlimit="3"/>
<path clip-path="url(#c2)" d="M900 306.4 932 306.25 941 306.11 947.2 305.91 951.8 305.6 955 305.18 956.2 304.92 957.4 304.56 958.4 304.14 959.2 303.68 959.8 303.23 960.4 302.65 961 301.87 961.4 301.2 961.8 300.36 962.2 299.3 962.8 297.11 963.2 295.07 963.6 292.41 964 289.02 965 279.2 965.2 278.01 965.4 277.46 965.6 277.63 965.8 278.43 966.8 286.12 967.2 288.47 967.4 289.31 967.6 289.92 967.8 290.31 968 290.5 968.2 290.49 968.4 290.27 968.8 289.22 969.2 287.28 969.4 285.93 969.8 282.38 970.2 277.59 971.2 262.69 971.4 260.62 971.6 259.49 971.8 259.46 972 260.57 972.2 262.67 973.4 281.43 974 288.3 974.4 291.6 974.8 294.14 975.4 296.9 976 298.81 976.8 300.54 977.2 301.17 977.8 301.91 978.4 302.47 979 302.9 979.6 303.23 980.4 303.56 981.4 303.84 982.4 304.01 983.6 304.1 984.8 304.08 986 303.95 987 303.75 988 303.44 988.8 303.09 989.8 302.46 990.6 301.75 991.4 300.76 992 299.74 992.6 298.37 993.2 296.49 993.6 294.84 994 292.73 994.6 288.4 995 284.44 995.6 276.47 996.6 260.05 996.8 257.68 997 256.14 997.2 255.57 997.4 255.92 997.6 257.04 998.4 263.81 998.6 264.97 998.8 265.68 999 265.93 999.2 265.73 1000 263 1000.2 262.83 1000.4 263.3 1000.6 264.49 1000.8 266.37 1002 282.68 1002.4 287.05 1002.8 290.5 1003.4 294.28 1004 296.9 1004.4 298.2 1004.8 299.25 1005.6 300.8 1006.2 301.64 1006.8 302.29 1007.6 302.95 1008.4 303.44 1009.4 303.9 1010.4 304.24 1011.6 304.53 1012.8 304.75 1014.6 304.95 1016.8 305.09 1019 305.11 1021.2 305.04 1023 304.9 1024.6 304.67 1026 304.36 1027.2 303.96 1028.4 303.33 1029.4 302.52 1030.2 301.52 1030.6 300.84 1031 299.99 1031.6 298.25 1032 296.71 1032.4 294.78 1033.4 289.12 1033.8 287.72 1034 287.49 1034.2 287.6 1034.4 288 1035.4 291.39 1035.8 292.28 1036 292.52 1036.2 292.63 1036.4 292.6 1036.6 292.44 1036.8 292.14 1037.2 291.1 1037.4 290.35 1037.8 288.32 1038.2 285.47 1038.8 279.19 1039.4 269.96 1040.4 251.41 1040.6 249.04 1040.8 247.82 1041 247.89 1041.2 249.25 1041.4 251.7 1042.4 269.73 1043 278.25 1043.4 282.17 1043.6 283.66 1044 285.83 1044.2 286.54 1044.4 287.02 1044.6 287.28 1044.8 287.32 1045 287.14 1045.2 286.74 1045.4 286.11 1045.8 284.19 1046.8 277.27 1047 276.35 1047.2 275.93 1047.4 276.11 1047.6 276.91 1047.8 278.25 1048.8 287.91 1049.2 291.26 1049.6 293.93 1050.2 296.9 1050.6 298.34 1051 299.48 1051.8 301.13 1052.4 302 1053 302.66 1053.6 303.18 1054.4 303.71 1055.4 304.2 1056.6 304.62 1058 304.97 1059.8 305.28 1061.8 305.52 1064.2 305.72 1070.2 306 1078.8 306.19 1091.6 306.31 1140 306.43" fill="none" stroke="#a020f0" stroke-width="2.5" stroke-linejoin="miter" stroke-miterlimit="3"/>
<path clip-path="url(#c2)" d="M900 261.92 920.2 261.84 934 261.71 943.8 261.52 950.8 261.23 956 260.81 958 260.55 959.8 260.22 961.2 259.87 962.6 259.4 963.8 258.84 964.8 258.2 965.6 257.53 966.4 256.64 967.2 255.42 967.8 254.19 968.4 252.55 968.8 251.13 969.2 249.37 969.6 247.16 970.2 242.63 970.6 238.55 971.2 230.37 972.2 213.69 972.4 211.3 972.6 209.81 972.8 209.39 973 210.07 973.2 211.72 974.2 225.96 974.8 232.9 975.2 235.98 975.4 237.09 975.8 238.57 976 238.96 976.2 239.14 976.4 239.12 976.6 238.89 976.8 238.47 977.2 237.01 977.6 234.71 978 231.51 978.4 227.38 979.4 214.57 979.8 210.39 980 209.09 980.2 208.5 980.4 208.67 980.6 209.6 981 213.38 982 227.28 982.6 234.52 983.2 239.97 983.8 243.89 984.2 245.83 984.8 247.97 985.2 249 985.8 250.05 986.4 250.62 986.6 250.71 987 250.76 987.4 250.61 987.6 250.46 988 250 988.6 248.82 989 247.63 989.4 246 989.8 243.8 990.4 238.89 991 230.9 991.4 222.8 991.8 211.47 992.8 170.89 993 164.98 993.2 162.14 993.4 162.77 993.6 166.4 994.4 188.25 994.6 191.2 994.8 192.31 995 191.36 995.2 188.12 995.4 182.31 995.6 173.64 996.4 122.15 996.6 117.98 996.8 123.32 997 136.52 997.4 170.57 997.8 198.32 998.2 216.68 998.4 223.21 998.8 232.74 999.4 241.54 999.8 245.32 1000.4 249.21 1001 251.81 1001.4 253.1 1001.8 254.14 1002.2 254.99 1002.8 256 1003.8 257.22 1004.6 257.92 1005.4 258.45 1006.4 258.97 1007.4 259.35 1008.6 259.7 1010 260 1011.6 260.24 1013.4 260.41 1015.4 260.52 1017.6 260.54 1019.6 260.46 1021.2 260.31 1022.6 260.07 1023.8 259.75 1024.8 259.35 1025.6 258.89 1026.6 258.04 1027.4 257 1028.2 255.42 1028.8 253.66 1029.4 251.2 1029.8 249.05 1031.2 239.94 1031.4 239.16 1031.6 238.75 1031.8 238.76 1032 239.17 1032.2 239.94 1033.6 248.53 1034 250.44 1034.4 251.91 1034.8 253.02 1035.4 254.09 1035.6 254.31 1036 254.58 1036.4 254.61 1036.6 254.54 1037 254.2 1037.2 253.92 1037.6 253.08 1038 251.76 1038.4 249.76 1039 244.88 1039.8 234.66 1040 232.47 1040.2 231.17 1040.4 231.07 1040.6 232.17 1041.4 241.5 1041.6 243.54 1042 246.59 1042.4 248.42 1042.6 248.97 1042.8 249.31 1043 249.46 1043.2 249.44 1043.4 249.26 1043.8 248.4 1044.2 246.86 1044.4 245.83 1045 241.59 1046 232.71 1046.2 231.54 1046.4 230.92 1046.6 230.94 1046.8 231.6 1047 232.84 1048.2 244.43 1048.6 247.65 1049.2 251.28 1049.8 253.81 1050.2 255.04 1050.6 256.03 1051.2 257.16 1051.8 257.99 1052.4 258.62 1053.2 259.25 1054.2 259.8 1055.2 260.2 1056.4 260.54 1057.6 260.79 1060.8 261.19 1065.2 261.47 1071.6 261.67 1080.6 261.8 1093.4 261.89 1140 261.98" fill="none" stroke="#0000ff" stroke-width="2.5" stroke-linejoin="miter" stroke-miterlimit="3"/>
<path clip-path="url(#c2)" d="M900 217.25 918.6 217.01 931.4 216.64 936.4 216.38 940.6 216.07 944 215.7 947 215.25 949.4 214.74 951.6 214.08 953.4 213.33 955 212.39 956.4 211.23 957.6 209.85 958.6 208.24 959.4 206.51 960.2 204.15 960.8 201.79 961.4 198.67 962 194.42 962.4 190.68 962.8 185.92 963.2 179.76 963.6 171.68 964.2 154.32 964.6 137.9 965.8 68.86 966 60.61 966.2 56.26 966.4 56.54 966.6 61.36 966.8 69.88 967.6 116.55 968 136.32 968.4 151.41 969 166.85 969.4 173.65 969.8 178.49 970.2 181.85 970.6 184.07 971 185.38 971.2 185.73 971.4 185.9 971.6 185.89 971.8 185.71 972 185.37 972.2 184.86 972.6 183.32 973 181.04 973.4 177.97 973.8 173.99 974.2 169 974.8 159.5 976.2 132.63 976.6 127.62 976.8 126.28 977 125.82 977.2 126.22 977.4 127.4 977.8 131.49 978.8 143.67 979.2 146.37 979.4 146.88 979.6 146.71 979.8 145.78 980 143.98 980.4 137.13 980.6 131.63 981 114.76 981.2 102.31 981.6 65.4 982 5.42 982.6 -122.82 982.8 -152.75 983 -158.56 983.2 -137.63 983.8 -8.02 984.2 60.3 984.6 104.06 985 131.56 985.2 141.34 985.6 155.69 986 165.32 986.6 174.4 986.8 176.45 987.2 179.52 987.4 180.63 987.8 182.15 988 182.6 988.2 182.87 988.4 182.96 988.6 182.89 988.8 182.65 989 182.25 989.4 180.96 990 177.69 990.6 172.5 991.2 164.74 991.6 157.62 992 148.38 992.4 136.3 992.8 120.38 993.2 99.19 993.6 70.82 994 32.97 994.4 -16.28 995.4 -162.05 995.6 -179.04 995.8 -185.4 996 -180.02 996.2 -163.81 997.2 -17.68 997.8 53.37 998.4 100.72 999 131.64 999.4 146.24 1000 162.25 1000.6 173.5 1001.2 181.66 1002 189.43 1002.8 194.91 1003.2 197.06 1003.8 199.74 1004.4 201.91 1005 203.7 1005.6 205.19 1006.2 206.45 1007 207.83 1007.8 208.97 1008.6 209.91 1009.6 210.88 1010.6 211.66 1011.6 212.31 1012.8 212.96 1014.2 213.56 1015.6 214.06 1017.2 214.51 1019 214.92 1021 215.28 1025.6 215.88 1031 216.31 1037.8 216.66 1046.2 216.92 1056.8 217.11 1087.4 217.37 1140 217.5" fill="none" stroke="#ffa500" stroke-width="2.5" stroke-linejoin="miter" stroke-miterlimit="3"/>
<path clip-path="url(#c2)" d="M900 172.74 912.8 172.58 923 172.37 931.2 172.09 937.8 171.74 943 171.3 947.4 170.74 951 170.02 952.4 169.63 953.8 169.15 955 168.64 956.2 167.99 957.2 167.29 958.2 166.39 959 165.46 959.8 164.25 960.4 163.07 961 161.57 961.8 158.81 962.6 154.78 963.2 150.61 964.6 138.82 964.8 137.7 965 136.98 965.2 136.69 965.4 136.84 965.6 137.39 965.8 138.26 966.8 144.4 967.2 146.48 967.6 148.03 967.8 148.61 968.2 149.39 968.4 149.6 968.6 149.7 968.8 149.7 969 149.61 969.4 149.13 970 147.73 970.6 145.5 971 143.5 971.4 141.03 972 136.25 972.6 129.81 973.2 121.06 973.6 113.49 974 104.02 974.4 92.11 974.8 76.97 975.4 46.01 975.8 18.13 976.4 -36.63 977.2 -122.62 977.6 -152.67 977.8 -159.09 978 -158.53 978.2 -151.07 978.4 -137.65 979.8 2.17 980.2 32.08 980.8 65.18 981.2 81.1 981.6 93.37 982 102.84 982.4 110.13 982.8 115.71 983.4 121.55 983.8 124.08 984 124.99 984.4 126.16 984.6 126.43 984.8 126.49 985 126.34 985.2 125.97 985.4 125.38 985.6 124.55 986 122.12 986.2 120.47 986.6 116.12 987 110.07 987.4 101.76 988 83.16 988.6 53.15 989 23.77 990.2 -97.06 990.4 -107.88 990.6 -110.65 990.8 -105.31 991 -93.47 991.6 -44.31 992 -18.72 992.2 -10.49 992.4 -5.48 992.6 -3.69 992.8 -5.03 993 -9.42 993.2 -16.66 994 -62.19 994.2 -71.27 994.4 -76.01 994.6 -75.48 994.8 -69.91 995.6 -28.21 995.8 -20.43 996 -15.35 996.2 -13.18 996.4 -14 996.6 -17.77 997 -33.51 997.8 -80.67 998 -88.26 998.2 -90.88 998.4 -87.6 998.6 -78.46 998.8 -64.48 999.6 8.85 1000.2 54.4 1000.8 85.84 1001.2 100.8 1001.6 112.33 1002 121.33 1002.6 131.45 1003.2 138.81 1004 145.84 1004.8 150.82 1005.6 154.49 1006.2 156.64 1006.8 158.43 1007.4 159.91 1008 161.18 1008.6 162.25 1009.4 163.46 1010.2 164.47 1011 165.32 1012 166.21 1013 166.94 1014.2 167.67 1015.4 168.27 1016.8 168.85 1018.2 169.33 1019.8 169.78 1021.6 170.19 1025.6 170.87 1030.6 171.43 1036.2 171.83 1043.2 172.16 1051.8 172.42 1062.4 172.62 1092 172.88 1140 173.02" fill="none" stroke="#00ff00" stroke-width="2.5" stroke-linejoin="miter" stroke-miterlimit="3"/>
<path clip-path="url(#c2)" d="M900 128.36 921.2 128.09 929 127.89 935.2 127.65 940.4 127.34 944.6 126.97 948 126.5 950.6 125.95 951.8 125.59 952.8 125.2 953.8 124.7 954.6 124.17 955.4 123.47 956 122.77 956.6 121.85 957 121.06 957.4 120.08 957.8 118.86 958.4 116.4 959 113 960 106.32 960.2 105.4 960.4 104.84 960.6 104.7 960.8 104.98 961 105.63 962.2 112.29 962.8 114.78 963.4 116.33 963.8 116.97 964.2 117.35 964.4 117.46 964.8 117.55 965.4 117.4 965.8 117.13 966.2 116.74 966.8 115.92 967.4 114.8 968 113.34 968.6 111.45 969 109.9 969.8 105.83 970.4 101.6 971 95.84 971.4 90.78 971.8 84.33 972.2 75.94 972.8 57.75 973.4 27.93 973.8 -3.59 974 -24.94 974.4 -84.84 974.8 -180.16 975 -197.22 977 -197.22 977.2 -193.95 977.6 -94.64 978 -32.52 978.4 7.22 978.8 33.55 979.4 58.5 979.8 69.3 980.2 77.16 980.6 82.96 981.2 88.94 981.8 92.66 982 93.51 982.4 94.73 982.8 95.38 983 95.51 983.2 95.51 983.4 95.38 983.6 95.14 984 94.27 984.4 92.87 984.8 90.88 985.4 86.57 986 80.2 986.6 70.85 987 62.25 987.4 50.96 988 26.72 988.4 3.58 989 -45.44 990 -145.68 990.2 -156.18 990.4 -159.29 990.6 -154.92 990.8 -144.31 991.8 -68.85 992 -58.41 992.4 -44.89 992.6 -41.55 992.8 -40.23 993 -40.73 993.2 -42.83 993.6 -50.78 994.2 -67.04 994.6 -75.53 994.8 -77.59 995 -77.66 995.2 -75.56 995.4 -71.26 995.8 -56.95 997 3.54 997.6 29.59 998.4 55.56 999.2 73.44 999.8 83.12 1000.4 90.55 1001 96.34 1001.8 102.23 1002.6 106.65 1003.6 110.76 1004.6 113.81 1005.2 115.28 1005.8 116.53 1006.4 117.61 1007.2 118.84 1008 119.87 1009 120.94 1010 121.82 1011 122.56 1012.2 123.29 1013.4 123.9 1014.8 124.48 1016.2 124.96 1017.8 125.42 1019.6 125.83 1023.6 126.51 1028.4 127.04 1034 127.45 1041 127.78 1049.6 128.03 1060.2 128.22 1090.2 128.46 1140 128.6" fill="none" stroke="#ffc0cb" stroke-width="2.5" stroke-linejoin="miter" stroke-miterlimit="3"/>
<g font-size="25.3" text-anchor="end">
<text x="113.5" y="40">25</text>
<text x="113.5" y="108">20</text>
<text x="113.5" y="182">15</text>
<text x="113.5" y="256">10</text>
<text x="113.5" y="330">5</text>
<text x="113.5" y="404">0</text>
</g>
<g font-size="25.3" text-anchor="middle">
<text x="120" y="456.5">0</text>
<text x="300" y="456.5">500</text>
<text x="480" y="456.5">1000</text>
<text x="660" y="456.5">1500</text>
<text x="840" y="456.5">2000</text>
<text x="899.5" y="456.5">2700</text>
<text x="1019.5" y="456.5">3000</text>
<text x="1139.5" y="456.5">3300</text>
</g>
<text x="779.8" y="64.8" font-size="26.5">(a)</text>
<text class="ser" x="360.2" y="489.8" font-size="27.05">Wavenumber <tspan font-size="24.8" dy="-0.55">(</tspan><tspan dy="0.55">cm</tspan><tspan font-size="13.4" dy="-11.3">-<tspan dx="-2.4">1</tspan></tspan><tspan font-size="24.8" dy="10.75" dx="1.3">)</tspan></text>
<text class="ser" x="918.2" y="489.8" font-size="27.05">Wavenumber <tspan font-size="24.8" dy="-0.55">(</tspan><tspan dy="0.55">cm</tspan><tspan font-size="13.4" dy="-11.3">-<tspan dx="-2.4">1</tspan></tspan><tspan font-size="24.8" dy="10.75" dx="1.3">)</tspan></text>
<text class="ser" transform="translate(61,300.9) rotate(-90)" font-size="39">ε</text>
<text class="ser" transform="translate(60,279.5) rotate(-90)" font-size="26.85"><tspan font-size="24.8" dy="-0.55">(</tspan><tspan dy="0.55">mol</tspan><tspan font-size="13.4" dy="-11.3">-<tspan dx="-2.4">1</tspan></tspan><tspan dy="11.3" dx="1.5">cm</tspan><tspan font-size="13.4" dy="-11.3">-<tspan dx="-2.4">1</tspan></tspan><tspan font-size="24.8" dy="10.75" dx="1.3">)</tspan></text>
<g transform="translate(0 114)" stroke="#ffc0cb" fill="none" stroke-linecap="butt" stroke-linejoin="miter"><path d="M142.5 0L142.5 -15.9M152.6 0L152.6 -15.9M166.8 -11.4L166.8 0M172.5 -11.4L172.5 5.7M186.7 -15.7L186.7 0M218.7 -16.3L218.7 0M243.2 0L243.2 -15.9M253.45 0L253.45 -15.9M259.4 -16L259.4 0" stroke-width="2.65"/><path d="M157.7 -5.4a4.2 5.1 0 1 0 8.4 0a4.2 5.1 0 1 0 -8.4 0ZM173.3 -5.4a4.2 5.1 0 1 0 8.4 0a4.2 5.1 0 1 0 -8.4 0ZM227.65 -8a5.05 7.9 0 1 0 10.1 0a5.05 7.9 0 1 0 -10.1 0ZM260.15 -5.4a4.2 5.1 0 1 0 8.4 0a4.2 5.1 0 1 0 -8.4 0Z" stroke-width="2.35"/><path d="M186.7 -5.4a4.1 5.05 0 0 1 8.2 0V0M197.9 0L211.7 0M243.2 -7.7L253.45 -7.7" stroke-width="2.5"/><path d="M218.5 -15.3L214.9 -12.6" stroke-width="2.6"/><path d="M141.18 -15.9L144.48 -15.9L153.92 0L150.62 0Z" fill="#ffc0cb" stroke="none"/></g>
<g transform="translate(0 158.45)" stroke="#00ff00" fill="none" stroke-linecap="butt" stroke-linejoin="miter"><path d="M142.5 0L142.5 -15.9M152.6 0L152.6 -15.9M166.8 -11.4L166.8 0M172.5 -11.4L172.5 5.7M186.7 -15.7L186.7 0M218.7 -16.3L218.7 0M243.2 0L243.2 -15.9M253.45 0L253.45 -15.9M267.6 -11.4L267.6 0" stroke-width="2.65"/><path d="M157.7 -5.4a4.2 5.1 0 1 0 8.4 0a4.2 5.1 0 1 0 -8.4 0ZM173.3 -5.4a4.2 5.1 0 1 0 8.4 0a4.2 5.1 0 1 0 -8.4 0ZM227.65 -8a5.05 7.9 0 1 0 10.1 0a5.05 7.9 0 1 0 -10.1 0ZM258.5 -5.4a4.2 5.1 0 1 0 8.4 0a4.2 5.1 0 1 0 -8.4 0Z" stroke-width="2.35"/><path d="M186.7 -5.4a4.1 5.05 0 0 1 8.2 0V0M197.9 0L211.7 0M243.2 -7.7L253.45 -7.7" stroke-width="2.5"/><path d="M218.5 -15.3L214.9 -12.6" stroke-width="2.6"/><path d="M141.18 -15.9L144.48 -15.9L153.92 0L150.62 0Z" fill="#00ff00" stroke="none"/></g>
<g transform="translate(0 202.89)" stroke="#ffa500" fill="none" stroke-linecap="butt" stroke-linejoin="miter"><path d="M142.5 0L142.5 -15.9M152.6 0L152.6 -15.9M166.8 -11.4L166.8 0M172.5 -11.4L172.5 5.7M186.7 -15.7L186.7 0M228.5 0L228.5 -15.9M238.75 0L238.75 -15.9" stroke-width="2.65"/><path d="M157.7 -5.4a4.2 5.1 0 1 0 8.4 0a4.2 5.1 0 1 0 -8.4 0ZM173.3 -5.4a4.2 5.1 0 1 0 8.4 0a4.2 5.1 0 1 0 -8.4 0ZM213.3 -12.7a4.7 3.2 0 1 0 9.4 0a4.7 3.2 0 1 0 -9.4 0ZM212.7 -4.9a5.3 4.7 0 1 0 10.6 0a5.3 4.7 0 1 0 -10.6 0Z" stroke-width="2.35"/><path d="M186.7 -5.4a4.1 5.05 0 0 1 8.2 0V0M197.9 0L211.7 0M228.5 -7.7L238.75 -7.7" stroke-width="2.5"/><path d="M141.18 -15.9L144.48 -15.9L153.92 0L150.62 0Z" fill="#ffa500" stroke="none"/></g>
<g transform="translate(0 247.34)" stroke="#0000ff" fill="none" stroke-linecap="butt" stroke-linejoin="miter"><path d="M142.5 0L142.5 -15.9M152.6 0L152.6 -15.9M166.8 -11.4L166.8 0M172.5 -11.4L172.5 5.7M186.7 -15.7L186.7 0M220.3 -16.1L220.3 0M228.5 0L228.5 -15.9M238.75 0L238.75 -15.9" stroke-width="2.65"/><path d="M157.7 -5.4a4.2 5.1 0 1 0 8.4 0a4.2 5.1 0 1 0 -8.4 0ZM173.3 -5.4a4.2 5.1 0 1 0 8.4 0a4.2 5.1 0 1 0 -8.4 0ZM219.85 -15.3L213.3 -4.95L223.8 -4.95" stroke-width="2.35"/><path d="M186.7 -5.4a4.1 5.05 0 0 1 8.2 0V0M197.9 0L211.7 0M228.5 -7.7L238.75 -7.7" stroke-width="2.5"/><path d="M141.18 -15.9L144.48 -15.9L153.92 0L150.62 0Z" fill="#0000ff" stroke="none"/></g>
<g transform="translate(0 291.78)" stroke="#a020f0" fill="none" stroke-linecap="butt" stroke-linejoin="miter"><path d="M142.5 0L142.5 -15.9M152.6 0L152.6 -15.9M166.8 -11.4L166.8 0M172.5 -11.4L172.5 5.7M186.7 -15.7L186.7 0M228.5 0L228.5 -15.9M238.75 0L238.75 -15.9" stroke-width="2.65"/><path d="M157.7 -5.4a4.2 5.1 0 1 0 8.4 0a4.2 5.1 0 1 0 -8.4 0ZM173.3 -5.4a4.2 5.1 0 1 0 8.4 0a4.2 5.1 0 1 0 -8.4 0Z" stroke-width="2.35"/><path d="M186.7 -5.4a4.1 5.05 0 0 1 8.2 0V0M197.9 0L211.7 0M228.5 -7.7L238.75 -7.7" stroke-width="2.5"/><path d="M213.55 -12.1A4.6 4.6 0 1 1 221.68 -7.9L214.65 -0.3L223.4 -0.3" stroke-width="2.6"/><path d="M141.18 -15.9L144.48 -15.9L153.92 0L150.62 0Z" fill="#a020f0" stroke="none"/></g>
<g transform="translate(0 336.23)" stroke="#ff0000" fill="none" stroke-linecap="butt" stroke-linejoin="miter"><path d="M142.5 0L142.5 -15.9M152.6 0L152.6 -15.9M166.8 -11.4L166.8 0M172.5 -11.4L172.5 5.7M186.7 -15.7L186.7 0M213.6 0L213.6 -15.9M225.2 0L225.2 -15.9M231.5 0L231.5 -15.9M243.1 0L243.1 -15.9M254.4 -16.3L254.4 0" stroke-width="2.65"/><path d="M157.7 -5.4a4.2 5.1 0 1 0 8.4 0a4.2 5.1 0 1 0 -8.4 0ZM173.3 -5.4a4.2 5.1 0 1 0 8.4 0a4.2 5.1 0 1 0 -8.4 0Z" stroke-width="2.35"/><path d="M186.7 -5.4a4.1 5.05 0 0 1 8.2 0V0M197.9 0L211.7 0" stroke-width="2.5"/><path d="M254.2 -15.3L250.6 -12.6" stroke-width="2.6"/><path d="M141.18 -15.9L144.48 -15.9L153.92 0L150.62 0ZM212.85 -15.9L215.4 -15.9L220.65 0.4L218.15 0.4ZM225.95 -15.9L223.4 -15.9L218.15 0.4L220.65 0.4ZM230.75 -15.9L233.3 -15.9L238.55 0.4L236.05 0.4ZM243.85 -15.9L241.3 -15.9L236.05 0.4L238.55 0.4Z" fill="#ff0000" stroke="none"/></g>
<g transform="translate(0 380.67)" stroke="#000000" fill="none" stroke-linecap="butt" stroke-linejoin="miter"><path d="M142.5 0L142.5 -15.9M152.6 0L152.6 -15.9M166.8 -11.4L166.8 0M172.5 -11.4L172.5 5.7M186.7 -15.7L186.7 0" stroke-width="2.65"/><path d="M157.7 -5.4a4.2 5.1 0 1 0 8.4 0a4.2 5.1 0 1 0 -8.4 0ZM173.3 -5.4a4.2 5.1 0 1 0 8.4 0a4.2 5.1 0 1 0 -8.4 0Z" stroke-width="2.35"/><path d="M186.7 -5.4a4.1 5.05 0 0 1 8.2 0V0" stroke-width="2.5"/><path d="M141.18 -15.9L144.48 -15.9L153.92 0L150.62 0Z" fill="#000000" stroke="none"/></g>
</svg>
</body></html>
